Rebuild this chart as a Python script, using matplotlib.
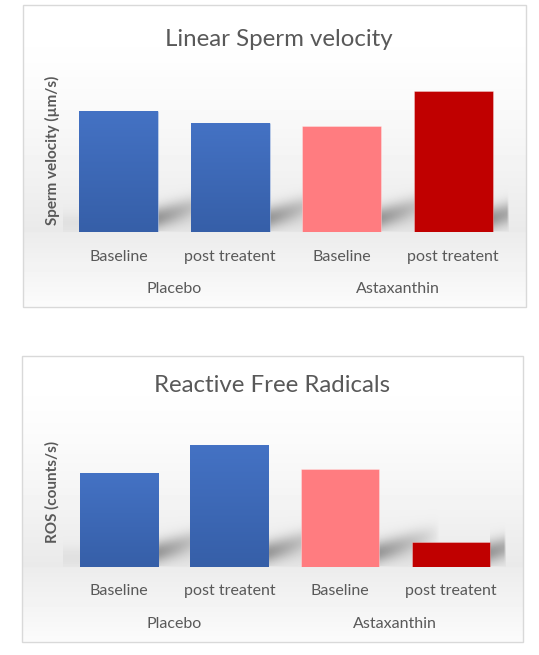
import numpy as np
import matplotlib.pyplot as plt
from matplotlib.patches import Rectangle
from matplotlib.colors import LinearSegmentedColormap

plt.rcParams['font.family'] = ['Lato', 'DejaVu Sans']

# data (no value axis shown, so heights are relative)
categories = ["Baseline", "post treatent", "Baseline", "post treatent"]
groups = ["Placebo", "Astaxanthin"]
velocity = [121, 109, 106, 141]
ros = [94, 122, 98, 25]

bar_colors = ["#4472C4", "#4472C4", "#FF7C80", "#C00000"]
text_color = "#595959"

W, H = 539, 655
fig = plt.figure(figsize=(W / 100, H / 100), dpi=100)

# background axes in pixel coordinates
bg = fig.add_axes([0, 0, 1, 1])
bg.set_xlim(0, W)
bg.set_ylim(H, 0)
bg.axis('off')

panels = [
    dict(box=(23, 5, 526, 307), plot=(63, 509), base=232.3, top=70,
         title="Linear Sperm velocity", tx=279, ty=46,
         ylabel="Sperm velocity (µm/s)", ly=150),
    dict(box=(22, 356, 523, 642), plot=(63.4, 506), base=566.7, top=410,
         title="Reactive Free Radicals", tx=272, ty=391.7,
         ylabel="ROS (counts/s)", ly=492),
]
series = [velocity, ros]

blue_cmap = LinearSegmentedColormap.from_list('blue', ['#365fa8', '#4472C4'])
grad = np.linspace(0, 1, 100).reshape(-1, 1)

img = np.ones((H, W))
ys = np.arange(H)[:, None] + 0.5
xs = np.arange(W)[None, :] + 0.5

for p, values in zip(panels, series):
    x0, y0, x1, y1 = p['box']
    px0, px1 = p['plot']
    base, top = p['base'], p['top']

    ax = fig.add_axes([px0 / W, 1 - base / H, (px1 - px0) / W, (base - top) / H])
    ax.patch.set_alpha(0)
    ax.axis('off')
    ax.set_xlim(-0.5, len(values) - 0.5)
    ax.set_ylim(0, base - top)
    bars = ax.bar(range(len(values)), values, width=0.706, color=bar_colors,
                  edgecolor=(1, 1, 1, 0.35), linewidth=0.6)
    # placebo bars have a slight top-to-bottom gradient
    for b in bars[:2]:
        im = ax.imshow(grad, cmap=blue_cmap, origin='lower', aspect='auto',
                       extent=(b.get_x(), b.get_x() + b.get_width(), 0, b.get_height()),
                       zorder=b.get_zorder() + 0.1)
        im.set_clip_path(b)
    ax.set_xlim(-0.5, len(values) - 0.5)
    ax.set_ylim(0, base - top)

    for i, lab in enumerate(categories):
        ax.annotate(lab, (i, 0), xytext=(0, -28.4), textcoords='offset pixels',
                    ha='center', va='baseline', fontsize=11.5, color=text_color,
                    annotation_clip=False)
    for j, g in enumerate(groups):
        ax.annotate(g, (2 * j + 0.5, 0), xytext=(0, -61), textcoords='offset pixels',
                    ha='center', va='baseline', fontsize=11.5, color=text_color,
                    annotation_clip=False)

    # Excel-like gradient fill
    inside = (xs >= x0) & (xs <= x1) & (ys >= y0) & (ys <= y1)
    t = np.clip((ys - y0 - 15) / (base - y0 - 15), 0, 1)
    above = 1.0 - 0.085 * t ** 1.5
    below = 0.925 + 0.06 * np.clip((ys - base) / (y1 - base), 0, 1)
    shade = np.where(ys < base, above, below) * np.ones_like(xs)
    # soft floor
    infloor = (ys < base) & (xs > px0) & (xs < px1)
    shade = shade - 0.04 * np.exp(-((ys - (base - 10)) / 10) ** 2) * infloor
    # cast shadow to the right of each bar
    for b in bars:
        xr = ax.transData.transform((b.get_x() + b.get_width(), 0))[0]
        d = xs - xr
        yc = base - 15 - 0.3 * d
        hfade = np.clip(1 - d / 60, 0, 1) ** 0.7 * (d >= 0) * np.clip((px1 - xs) / 2, 0, 1)
        shade = shade - 0.3 * np.exp(-((ys - yc) / 11) ** 2) * hfade * (ys < base - 1)
    img = np.where(inside, shade, img)

    bg.add_patch(Rectangle((x0, y0), x1 - x0, y1 - y0, fill=False,
                           ec='#d9d9d9', lw=1))
    bg.text(p['tx'], p['ty'], p['title'], ha='center', va='baseline',
            fontsize=17.3, color=text_color)
    bg.text(52.3, p['ly'], p['ylabel'], rotation=90, ha='center', va='center',
            fontsize=11, fontweight='bold', color=text_color)

bg.imshow(img, cmap='gray', vmin=0, vmax=1, extent=(0, W, H, 0),
          aspect='auto', interpolation='bilinear')

fig.savefig('out.png', dpi=100)
